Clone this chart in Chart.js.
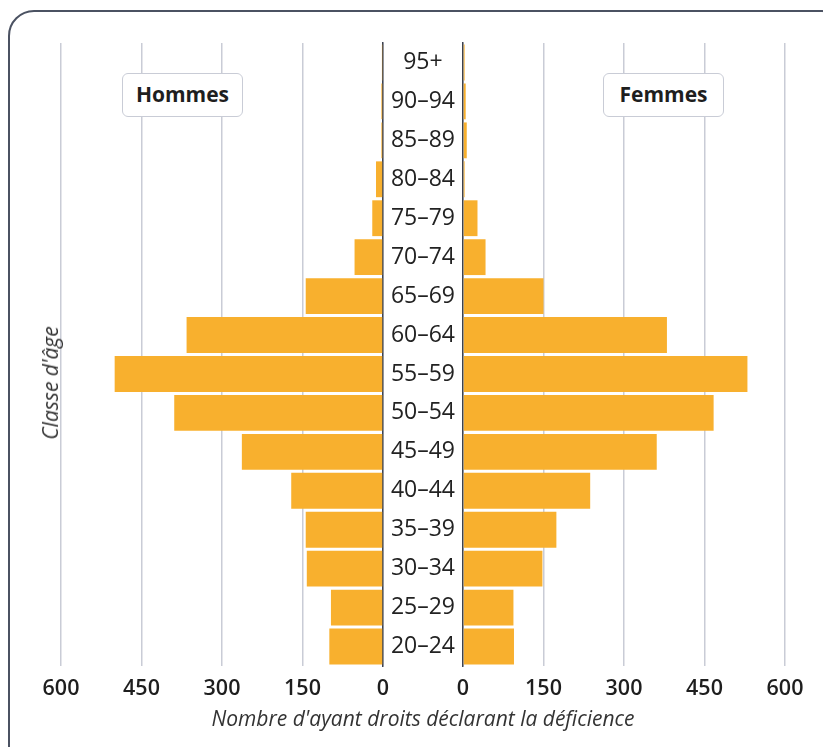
<!DOCTYPE html>
<html>
  <head>
    <meta charset="utf-8">
    <script src="https://cdn.jsdelivr.net/npm/chart.js@4.4.1/dist/chart.umd.min.js"></script>
  </head>

  <style>
    body {
        margin: 0;
        width: 823px;
        height: 747px;
        overflow: hidden;
        background: white;
        font-family: "Open Sans", sans-serif;
    }
    .frame {
        position: absolute;
        left: 8px;
        top: 10px;
        width: 840px;
        height: 770px;
        border: 2.5px solid #4b5262;
        border-radius: 26px;
        box-sizing: border-box;
    }
    .chart {
        position: absolute;
        left: 0;
        top: 0;
        width: 823px;
        height: 747px;
    }
    .sex-box {
        position: absolute;
        top: 73px;
        width: 121px;
        height: 44px;
        border: 1.5px solid #c9ccd6;
        border-radius: 6px;
        background: white;
        box-sizing: border-box;
        font-weight: 700;
        font-size: 21px;
        color: #1e1e1e;
        text-align: center;
        line-height: 41px;
    }
    .axis-title {
        position: absolute;
        left: 423px;
        top: 718px;
        transform: translate(-50%, -50%);
        white-space: nowrap;
        font-style: italic;
        font-size: 21px;
        color: #333;
    }
    .y-title {
        position: absolute;
        left: 50px;
        top: 383px;
        transform: translate(-50%, -50%) rotate(-90deg);
        white-space: nowrap;
        font-style: italic;
        font-size: 21px;
        color: #333;
    }
  </style>

  <body>
    <div class="frame"></div>
    <div class="chart"><canvas id="bar-hommes"></canvas></div>
    <div class="chart"><canvas id="bar-femmes"></canvas></div>
    <div class="sex-box" style="left: 122px;">Hommes</div>
    <div class="sex-box" style="left: 603px;">Femmes</div>
    <div class="axis-title">Nombre d'ayant droits déclarant la déficience</div>
    <div class="y-title">Classe d'âge</div>

<script>
  // age classes, top to bottom
  const ageClasses = ['95+', '90–94', '85–89', '80–84', '75–79', '70–74', '65–69', '60–64',
                      '55–59', '50–54', '45–49', '40–44', '35–39', '30–34', '25–29', '20–24'];
  const hommes = [2, 3, 3, 13, 20, 53, 144, 366, 500, 389, 263, 171, 144, 142, 97, 100];
  const femmes = [3, 5, 7, 3, 27, 42, 150, 380, 530, 467, 361, 237, 174, 148, 94, 95];
  const xTicks = [0, 150, 300, 450, 600];

  const barColor = '#f8b02e';
  const gridColor = '#c9ccd6';
  const axisColor = '#3c4250';

  Chart.defaults.font.family = '"Open Sans", sans-serif';
  Chart.defaults.animation = false;

  function xScale(reverse) {
      return {
          type: 'linear',
          min: 0,
          max: 600,
          reverse: reverse,
          afterBuildTicks: function(scale) {
              scale.ticks = xTicks.map(v => ({ value: v }));
          },
          afterFit: function(scale) { scale.height = 40; },
          grid: { color: gridColor, lineWidth: 1.5, drawTicks: false },
          border: { display: false },
          ticks: {
              padding: 10,
              color: '#1e1e1e',
              font: { size: 21.5, weight: '600' }
          }
      };
  }

  function makeChart(canvasId, values, side) {
      const left = side == 'left';
      return new Chart(document.getElementById(canvasId), {
          type: 'bar',
          data: {
              labels: ageClasses,
              datasets: [{
                  data: values,
                  backgroundColor: barColor,
                  borderWidth: 0,
                  barPercentage: 0.92,
                  categoryPercentage: 1.0
              }]
          },
          options: {
              indexAxis: 'y',
              responsive: true,
              maintainAspectRatio: false,
              layout: {
                  padding: left
                      ? { left: 61, right: 440, top: 43, bottom: 41 }
                      : { left: 383, right: 38, top: 43, bottom: 41 }
              },
              plugins: { legend: { display: false }, tooltip: { enabled: false } },
              scales: {
                  x: xScale(left),
                  y: {
                      position: left ? 'right' : 'left',
                      z: 1,
                      afterFit: function(scale) { scale.width = left ? 0 : 80; },
                      grid: { display: false },
                      border: { display: true, color: axisColor, width: 1.5 },
                      ticks: {
                          display: !left,
                          crossAlign: 'center',
                          padding: 0,
                          color: '#222',
                          font: { size: 23 }
                      }
                  }
              }
          }
      });
  }

  makeChart('bar-hommes', hommes, 'left');
  makeChart('bar-femmes', femmes, 'right');
</script>

</body>
</html>
